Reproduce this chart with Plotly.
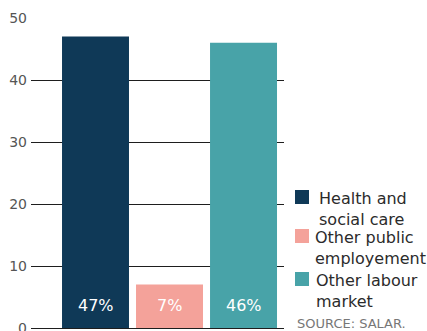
import plotly.graph_objects as go

# Share of employment by sector (%)
categories = ["Health and<br>social care", "Other public<br>employement", "Other labour<br>market"]
values = [47, 7, 46]
colors = ["#0F3957", "#F4A29A", "#48A3A8"]
y_ticks = [0, 10, 20, 30, 40, 50]
source_text = "SOURCE: SALAR."

FONT = "DejaVu Sans"
W, H = 427, 331
ML, MR, MT, MB = 31, 143, 18, 3
PW, PH = W - ML - MR, H - MT - MB


def px_x(px):
    return (px - ML) / PW


def px_y(py):
    return (H - MB - py) / PH


fig = go.Figure()
for i, (name, val, col) in enumerate(zip(categories, values, colors)):
    fig.add_trace(go.Bar(
        x=[i], y=[val], name=name, marker=dict(color=col, line=dict(width=0)),
        width=0.905, showlegend=False, hoverinfo="name+y",
    ))
    # value label near the base of each bar
    fig.add_annotation(
        x=i, y=3.7, xref="x", yref="y", text=f"{val}%", showarrow=False,
        font=dict(family=FONT, size=16, color="white"),
    )

# legend: colour swatch + wrapped label per category
legend_rows = [(190, 317), (229, 313), (272, 314)]
for (top, text_x), name, col in zip(legend_rows, categories, colors):
    fig.add_shape(
        type="rect", xref="paper", yref="paper",
        x0=px_x(295), x1=px_x(309), y0=px_y(top), y1=px_y(top + 14),
        fillcolor=col, line=dict(width=0),
    )
    fig.add_annotation(
        x=px_x(text_x), y=px_y(top - 3), xref="paper", yref="paper",
        text=name, showarrow=False, align="left", xanchor="left", yanchor="top",
        font=dict(family=FONT, size=16, color="#2B2B2B"),
    )

fig.add_annotation(
    x=px_x(295), y=px_y(323), xref="paper", yref="paper", text=source_text,
    showarrow=False, xanchor="left", yanchor="middle",
    font=dict(family=FONT, size=13, color="#777777"),
)

fig.update_layout(
    width=W, height=H,
    margin=dict(l=ML, r=MR, t=MT, b=MB, autoexpand=False),
    paper_bgcolor="white", plot_bgcolor="white",
    showlegend=False,
    xaxis=dict(range=[-0.8716, 2.547], showticklabels=False, showgrid=False,
               zeroline=False, showline=False, ticks="", fixedrange=True),
    yaxis=dict(range=[0, 50], tickvals=y_ticks, showgrid=True, gridcolor="#1E1E1E",
               gridwidth=1, zeroline=True, zerolinecolor="#1E1E1E", zerolinewidth=1,
               showline=False, ticks="", ticklabeloverflow="allow", ticklabelstandoff=3,
               tickfont=dict(family=FONT, size=14, color="#555555")),
)

fig.write_html("out.html")
